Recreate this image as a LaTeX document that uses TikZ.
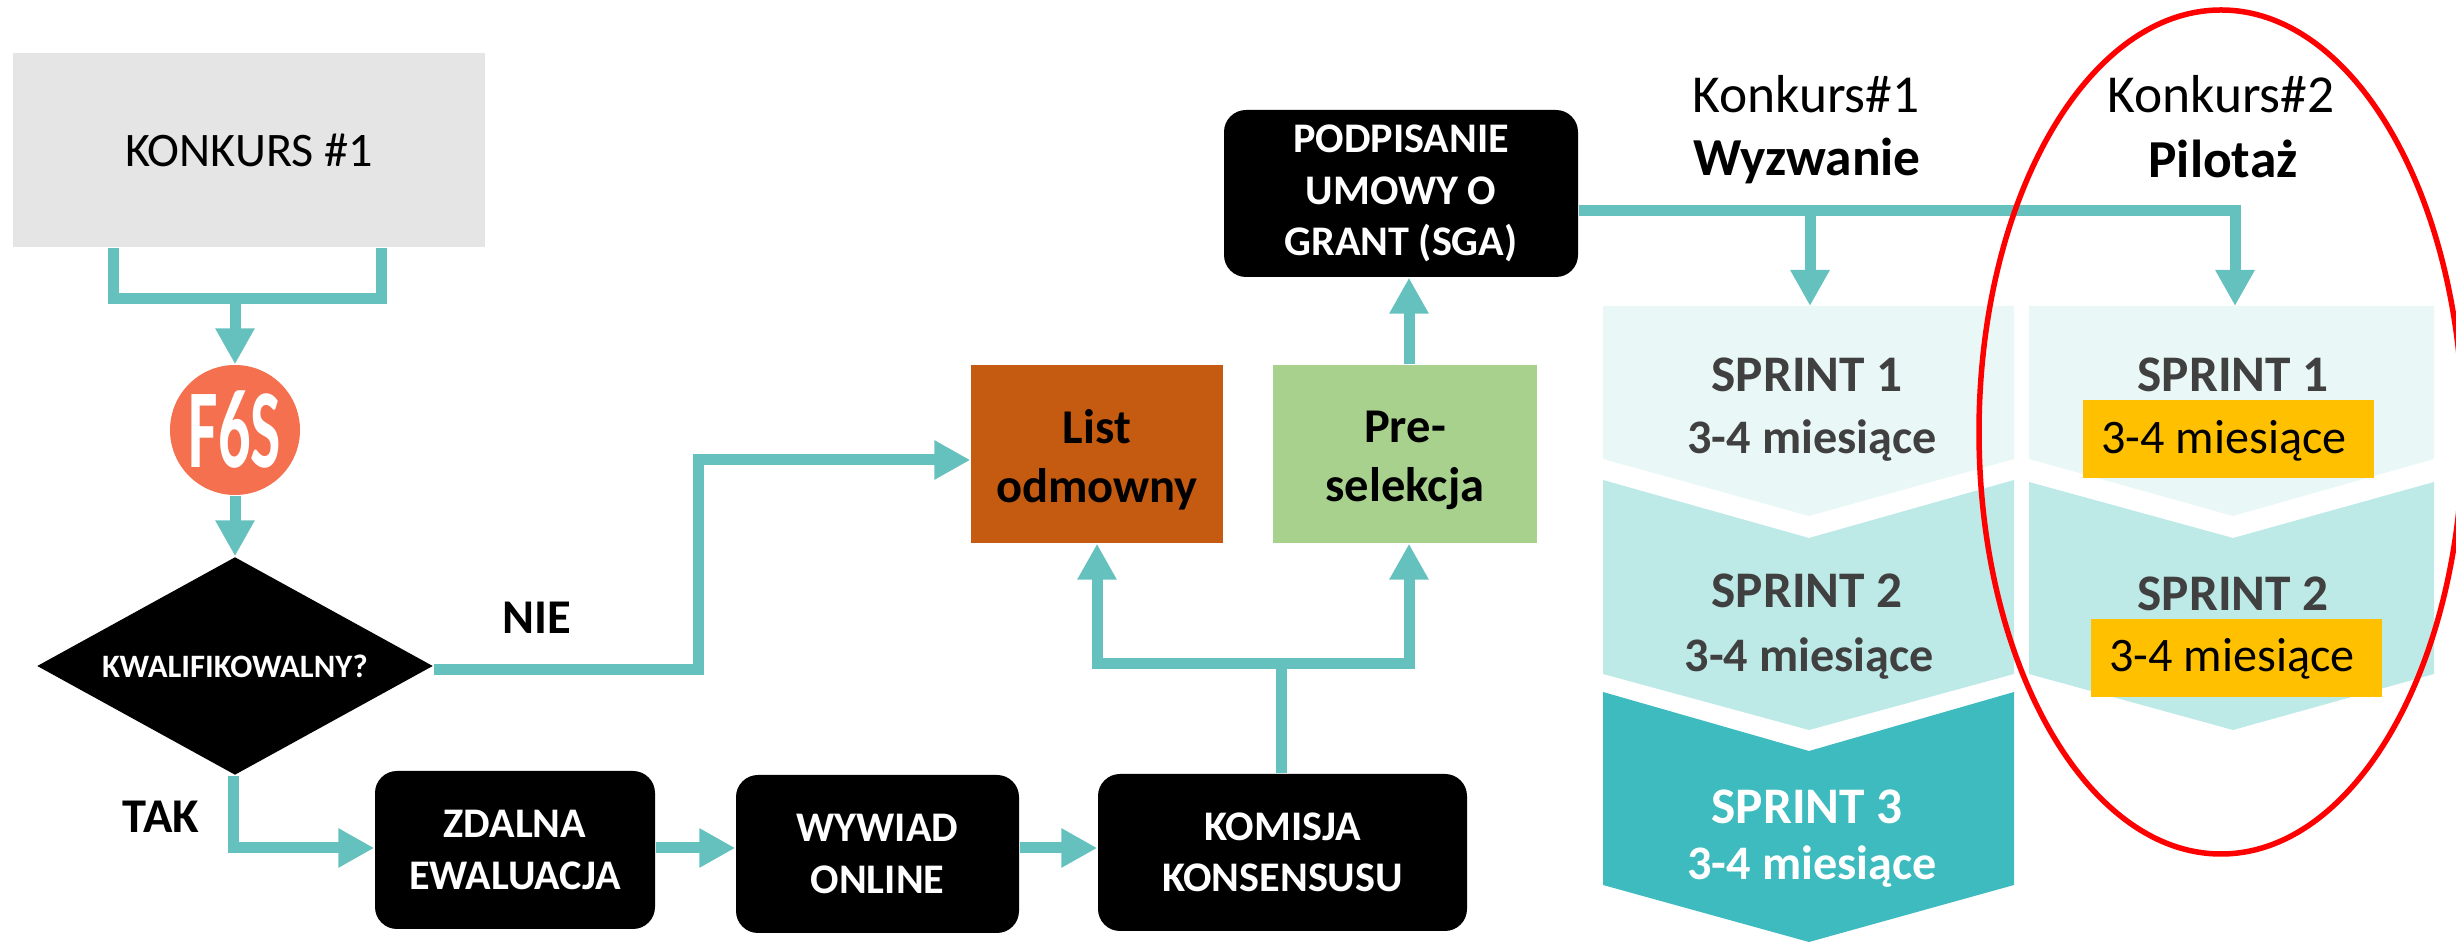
\documentclass[tikz,border=0pt]{standalone}
\usepackage{fontspec}
\setmainfont{Carlito}
\usetikzlibrary{arrows.meta,shapes.geometric}
\definecolor{morski}{HTML}{65C1BE}
\definecolor{jasny}{HTML}{E9F7F6}
\definecolor{sredni}{HTML}{BDE9E7}
\definecolor{ciemny}{HTML}{3DBBBE}
\definecolor{szary}{HTML}{404040}
\definecolor{tlo}{HTML}{E5E5E5}
\definecolor{koral}{HTML}{F4704F}
\definecolor{odmowa}{HTML}{C55A11}
\definecolor{zielony}{HTML}{A9D18E}
\definecolor{zloty}{HTML}{FFC000}
\tikzset{
  linia/.style={draw=morski,line width=1.1mm,miter limit=10},
  strzalka/.style={linia,-{Triangle[length=3.6mm,width=3.7mm]}},
  czarny/.style={draw=none,fill=black,rounded corners=2.2mm,text=white,align=center,inner sep=0pt,
    font=\fontsize{12}{14.6}\selectfont\bfseries},
  kolor/.style={inner sep=0pt,align=center,font=\fontsize{13.8}{16.8}\selectfont\bfseries},
  pole/.style={minimum height=1.78cm,inner sep=0pt},
  opis/.style={inner sep=0pt,font=\fontsize{13.7}{16}\selectfont},
  naglowek/.style={inner sep=0pt,font=\fontsize{15.2}{18}\selectfont},
  tytul/.style={inner sep=0pt,font=\fontsize{15.2}{18}\selectfont\bfseries},
  sprint/.style={inner sep=0pt,text=szary,font=\fontsize{14.6}{16}\selectfont\bfseries},
  czas/.style={inner sep=0pt,text=szary,font=\fontsize{13.7}{16}\selectfont\bfseries}
}
\begin{document}
\begin{tikzpicture}
\useasboundingbox (0,0) rectangle (24.56,9.44);
% sprints
\fill[jasny] (16.03,6.38) -- (20.14,6.38) -- (20.14,4.85) -- (18.09,4.28) -- (16.03,4.85) -- cycle;
\fill[sredni] (16.03,4.64) -- (18.09,4.06) -- (20.14,4.64) -- (20.14,2.70) -- (18.09,2.14) -- (16.03,2.70) -- cycle;
\fill[ciemny] (16.03,2.52) -- (18.09,1.93) -- (20.14,2.52) -- (20.14,0.59) -- (18.09,0.02) -- (16.03,0.59) -- cycle;
\fill[jasny] (20.29,6.38) -- (24.34,6.38) -- (24.34,4.85) -- (22.33,4.28) -- (20.29,4.85) -- cycle;
\fill[sredni] (20.29,4.62) -- (22.33,4.06) -- (24.34,4.62) -- (24.34,2.70) -- (22.33,2.14) -- (20.29,2.70) -- cycle;
% flow chart
\node[fill=tlo,minimum width=4.72cm,minimum height=1.94cm,opis] (konkurs) at (2.49,7.94) {KONKURS \#1};
\node[circle,fill=koral,minimum size=1.30cm,inner sep=0pt] (f6s) at (2.35,5.14) {};
\node[xscale=.57,text=white,inner sep=0pt,font=\fontsize{32}{32}\selectfont\bfseries] (f6stext) at (2.35,5.14) {F6S};
\node[diamond,aspect=1.82,fill=black,minimum width=3.96cm,minimum height=2.18cm,inner sep=0pt,text=white,font=\fontsize{9.3}{12}\selectfont\bfseries] (pytanie) at (2.35,2.78) {KWALIFIKOWALNY?};
\node[kolor] (nie) at (5.37,3.26) {NIE};
\node[kolor] (tak) at (1.61,1.27) {TAK};
\node[czarny,minimum width=2.80cm,minimum height=1.58cm] (zdalna) at (5.15,0.94) {ZDALNA\\EWALUACJA};
\node[czarny,minimum width=2.83cm,minimum height=1.58cm] (wywiad) at (8.775,0.90) {WYWIAD\\ONLINE};
\node[czarny,minimum width=3.69cm,minimum height=1.57cm] (komisja) at (12.825,0.915) {KOMISJA\\KONSENSUSU};
\node[pole,fill=odmowa,minimum width=2.52cm] (list) at (10.97,4.90) {};
\node[kolor] (listtext) at (10.97,4.84) {List\\odmowny};
\node[pole,fill=zielony,minimum width=2.64cm] (pre) at (14.05,4.90) {};
\node[kolor] (pretext) at (14.05,4.84) {Pre-\\selekcja};
\node[czarny,minimum width=3.54cm,minimum height=1.67cm] (podpis) at (14.01,7.505) {PODPISANIE\\UMOWY O\\GRANT (SGA)};
% connectors
\coordinate (forkL) at (1.13,6.45);
\coordinate (forkM) at (2.35,6.45);
\coordinate (forkR) at (3.81,6.45);
\coordinate (nieA) at (6.98,2.74);
\coordinate (nieB) at (6.98,4.84);
\coordinate (takA) at (2.33,0.96);
\coordinate (rozA) at (12.81,2.80);
\coordinate (rozL) at (10.97,2.80);
\coordinate (rozR) at (14.09,2.80);
\coordinate (szynaA) at (18.10,7.33);
\coordinate (szynaB) at (22.35,7.33);
\coordinate (sprintA) at (18.10,6.38);
\coordinate (sprintB) at (22.35,6.38);
\draw[linia] (konkurs.south -| forkL) -- (forkL) -- (forkR) -- (konkurs.south -| forkR);
\draw[strzalka] (forkM) -- (f6s);
\draw[strzalka] (f6s) -- (pytanie);
\draw[strzalka] (pytanie.east |- nieA) -- (nieA) -- (nieB) -- (list.west |- nieB);
\draw[strzalka] (pytanie.south -| takA) -- (takA) -- (zdalna.west |- takA);
\draw[strzalka] (zdalna.east |- takA) -- (wywiad.west |- takA);
\draw[strzalka] (wywiad.east |- takA) -- (komisja.west |- takA);
\draw[linia] (komisja.north -| rozA) -- (rozA);
\draw[strzalka] (rozA) -- (rozL) -- (list.south -| rozL);
\draw[strzalka] (rozA) -- (rozR) -- (pre.south -| rozR);
\draw[strzalka] (pre.north -| rozR) -- (podpis.south -| rozR);
\draw[linia] (podpis.east |- szynaA) -- (szynaA);
\draw[strzalka] (szynaA) -- (sprintA);
\draw[strzalka] (szynaA) -- (szynaB) -- (sprintB);
% headers
\node[naglowek] (konkursA) at (18.06,8.495) {Konkurs\#1};
\node[tytul] (wyzwanie) at (18.07,7.83) {Wyzwanie};
\node[naglowek] (konkursB) at (22.21,8.495) {Konkurs\#2};
\node[tytul] (pilotaz) at (22.23,7.85) {Pilotaż};
% sprint labels
\node[sprint] (s1) at (18.07,5.69) {SPRINT 1};
\node[czas] (m1) at (18.12,5.03) {3-4 miesiące};
\node[sprint] (s2) at (18.07,3.53) {SPRINT 2};
\node[czas] (m2) at (18.09,2.85) {3-4 miesiące};
\node[sprint,text=white] (s3) at (18.07,1.37) {SPRINT 3};
\node[czas,text=white] (m3) at (18.12,0.77) {3-4 miesiące};
\node[sprint] (p1) at (22.33,5.69) {SPRINT 1};
\node[sprint] (p2) at (22.33,3.50) {SPRINT 2};
\fill[zloty] (20.83,5.44) rectangle (23.74,4.66);
\fill[zloty] (20.91,3.25) rectangle (23.82,2.47);
\node[opis] (q1) at (22.24,5.03) {3-4 miesiące};
\node[opis] (q2) at (22.32,2.85) {3-4 miesiące};
\draw[red,line width=.55mm] (22.21,5.12) ellipse (2.42 and 4.22);
\end{tikzpicture}
\end{document}
